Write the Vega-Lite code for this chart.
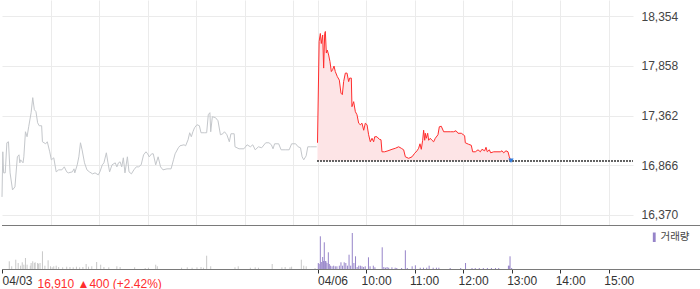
{
"$schema": "https://vega.github.io/schema/vega-lite/v6.json",
"padding": 0,
"spacing": 0,
"config": {"view": {"stroke": null}, "font": "Liberation Sans"},
"datasets": {
"price": [
{"t":0,"p":16550,"s":"a"},{"t":1,"p":17000,"s":"a"},{"t":2,"p":16790,"s":"a"},{"t":4,"p":16790,"s":"a"},{"t":6,"p":17090,"s":"a"},{"t":8,"p":17100,"s":"a"},{"t":10,"p":16790,"s":"a"},{"t":13,"p":16620,"s":"a"},{"t":16,"p":16650,"s":"a"},{"t":19,"p":16950,"s":"a"},{"t":21,"p":16970,"s":"a"},{"t":22,"p":16890,"s":"a"},{"t":23,"p":16920,"s":"a"},{"t":26,"p":16890,"s":"a"},{"t":27,"p":16950,"s":"a"},{"t":29,"p":17200,"s":"a"},{"t":31,"p":17150,"s":"a"},{"t":33,"p":17250,"s":"a"},{"t":36,"p":17390,"s":"a"},{"t":38,"p":17540,"s":"a"},{"t":40,"p":17420,"s":"a"},{"t":42,"p":17400,"s":"a"},{"t":44,"p":17290,"s":"a"},{"t":46,"p":17260,"s":"a"},{"t":49,"p":17260,"s":"a"},{"t":50,"p":17100,"s":"a"},{"t":54,"p":17080,"s":"a"},{"t":56,"p":17100,"s":"a"},{"t":59,"p":17000,"s":"a"},{"t":61,"p":16920,"s":"a"},{"t":64,"p":16940,"s":"a"},{"t":67,"p":16800,"s":"a"},{"t":70,"p":16820,"s":"a"},{"t":74,"p":16820,"s":"a"},{"t":77,"p":16850,"s":"a"},{"t":80,"p":16800,"s":"a"},{"t":82,"p":16790,"s":"a"},{"t":87,"p":16800,"s":"a"},{"t":89,"p":16830,"s":"a"},{"t":90,"p":16790,"s":"a"},{"t":93,"p":16870,"s":"a"},{"t":95,"p":16950,"s":"a"},{"t":97,"p":17090,"s":"a"},{"t":99,"p":17020,"s":"a"},{"t":102,"p":16890,"s":"a"},{"t":105,"p":16820,"s":"a"},{"t":108,"p":16800,"s":"a"},{"t":112,"p":16780,"s":"a"},{"t":115,"p":16790,"s":"a"},{"t":119,"p":16770,"s":"a"},{"t":121,"p":16800,"s":"a"},{"t":124,"p":16870,"s":"a"},{"t":126,"p":16890,"s":"a"},{"t":129,"p":16990,"s":"a"},{"t":131,"p":16890,"s":"a"},{"t":133,"p":16800,"s":"a"},{"t":136,"p":16870,"s":"a"},{"t":140,"p":16890,"s":"a"},{"t":142,"p":16850,"s":"a"},{"t":144,"p":16890,"s":"a"},{"t":146,"p":16900,"s":"a"},{"t":148,"p":16850,"s":"a"},{"t":150,"p":16940,"s":"a"},{"t":152,"p":16790,"s":"a"},{"t":155,"p":16950,"s":"a"},{"t":157,"p":16800,"s":"a"},{"t":160,"p":16780,"s":"a"},{"t":163,"p":16820,"s":"a"},{"t":166,"p":16850,"s":"a"},{"t":169,"p":16850,"s":"a"},{"t":172,"p":16870,"s":"a"},{"t":175,"p":16970,"s":"a"},{"t":178,"p":17000,"s":"a"},{"t":180,"p":16980,"s":"a"},{"t":182,"p":16950,"s":"a"},{"t":185,"p":16980,"s":"a"},{"t":187,"p":16980,"s":"a"},{"t":190,"p":16870,"s":"a"},{"t":193,"p":16950,"s":"a"},{"t":196,"p":16850,"s":"a"},{"t":199,"p":16820,"s":"a"},{"t":204,"p":16830,"s":"a"},{"t":209,"p":16830,"s":"a"},{"t":212,"p":16920,"s":"a"},{"t":214,"p":16980,"s":"a"},{"t":218,"p":17040,"s":"a"},{"t":220,"p":17060,"s":"a"},{"t":225,"p":17070,"s":"a"},{"t":227,"p":17060,"s":"a"},{"t":230,"p":17120,"s":"a"},{"t":232,"p":17190,"s":"a"},{"t":234,"p":17150,"s":"a"},{"t":236,"p":17200,"s":"a"},{"t":238,"p":17240,"s":"a"},{"t":241,"p":17270,"s":"a"},{"t":244,"p":17260,"s":"a"},{"t":246,"p":17190,"s":"a"},{"t":250,"p":17190,"s":"a"},{"t":253,"p":17190,"s":"a"},{"t":255,"p":17370,"s":"a"},{"t":257,"p":17390,"s":"a"},{"t":258,"p":17200,"s":"a"},{"t":260,"p":17350,"s":"a"},{"t":264,"p":17340,"s":"a"},{"t":267,"p":17310,"s":"a"},{"t":270,"p":17170,"s":"a"},{"t":273,"p":17180,"s":"a"},{"t":275,"p":17200,"s":"a"},{"t":278,"p":17170,"s":"a"},{"t":281,"p":17100,"s":"a"},{"t":283,"p":17180,"s":"a"},{"t":287,"p":17180,"s":"a"},{"t":288,"p":17050,"s":"a"},{"t":293,"p":17030,"s":"a"},{"t":299,"p":17030,"s":"a"},{"t":303,"p":17070,"s":"a"},{"t":307,"p":17050,"s":"a"},{"t":310,"p":17070,"s":"a"},{"t":313,"p":17020,"s":"a"},{"t":317,"p":17050,"s":"a"},{"t":321,"p":17040,"s":"a"},{"t":326,"p":17090,"s":"a"},{"t":330,"p":17090,"s":"a"},{"t":333,"p":17070,"s":"a"},{"t":335,"p":17030,"s":"a"},{"t":337,"p":17080,"s":"a"},{"t":342,"p":17080,"s":"a"},{"t":345,"p":17020,"s":"a"},{"t":350,"p":17020,"s":"a"},{"t":355,"p":17020,"s":"a"},{"t":358,"p":17080,"s":"a"},{"t":363,"p":17080,"s":"a"},{"t":366,"p":17050,"s":"a"},{"t":369,"p":17040,"s":"a"},{"t":371,"p":16950,"s":"a"},{"t":373,"p":16920,"s":"a"},{"t":376,"p":16960,"s":"a"},{"t":378,"p":17050,"s":"a"},{"t":381,"p":17050,"s":"a"},{"t":389,"p":17050,"s":"a"},
{"t":390,"p":17090,"s":"b"},{"t":392,"p":18100,"s":"b"},{"t":393.5,"p":18180,"s":"b"},{"t":394.7,"p":18080,"s":"b"},{"t":396.4,"p":18165,"s":"b"},{"t":397.6,"p":17835,"s":"b"},{"t":398.9,"p":18180,"s":"b"},{"t":399.7,"p":18200,"s":"b"},{"t":400.9,"p":17985,"s":"b"},{"t":402.1,"p":18015,"s":"b"},{"t":403.8,"p":17965,"s":"b"},{"t":405.4,"p":17900,"s":"b"},{"t":407.1,"p":17800,"s":"b"},{"t":408.7,"p":17820,"s":"b"},{"t":410.4,"p":17855,"s":"b"},{"t":412,"p":17800,"s":"b"},{"t":414.5,"p":17750,"s":"b"},{"t":417,"p":17715,"s":"b"},{"t":419,"p":17585,"s":"b"},{"t":420.7,"p":17570,"s":"b"},{"t":422.3,"p":17700,"s":"b"},{"t":424.4,"p":17785,"s":"b"},{"t":426.5,"p":17785,"s":"b"},{"t":428.5,"p":17700,"s":"b"},{"t":429.8,"p":17735,"s":"b"},{"t":431.8,"p":17735,"s":"b"},{"t":432.6,"p":17450,"s":"b"},{"t":434.7,"p":17500,"s":"b"},{"t":436.8,"p":17400,"s":"b"},{"t":438.8,"p":17370,"s":"b"},{"t":440.9,"p":17285,"s":"b"},{"t":442.9,"p":17270,"s":"b"},{"t":445,"p":17285,"s":"b"},{"t":447.1,"p":17215,"s":"b"},{"t":449.1,"p":17285,"s":"b"},{"t":451.2,"p":17270,"s":"b"},{"t":453.2,"p":17170,"s":"b"},{"t":455.3,"p":17100,"s":"b"},{"t":457.4,"p":17135,"s":"b"},{"t":459.4,"p":17100,"s":"b"},{"t":460.7,"p":17150,"s":"b"},{"t":463.5,"p":17150,"s":"b"},{"t":466.4,"p":17125,"s":"b"},{"t":468.5,"p":17120,"s":"b"},{"t":469.7,"p":17000,"s":"b"},{"t":473,"p":17000,"s":"b"},{"t":477.1,"p":17010,"s":"b"},{"t":482.1,"p":17025,"s":"b"},{"t":486.2,"p":17035,"s":"b"},{"t":490.3,"p":17050,"s":"b"},{"t":493.6,"p":17035,"s":"b"},{"t":496.5,"p":17020,"s":"b"},{"t":498.6,"p":16950,"s":"b"},{"t":502.7,"p":16935,"s":"b"},{"t":506.8,"p":16950,"s":"b"},{"t":510.1,"p":16985,"s":"b"},{"t":513,"p":17010,"s":"b"},{"t":515,"p":17035,"s":"b"},{"t":516.7,"p":17080,"s":"b"},{"t":518.3,"p":17025,"s":"b"},{"t":520,"p":17115,"s":"b"},{"t":521.2,"p":17215,"s":"b"},{"t":522.5,"p":17115,"s":"b"},{"t":523.3,"p":17185,"s":"b"},{"t":524.5,"p":17135,"s":"b"},{"t":526.2,"p":17185,"s":"b"},{"t":527.4,"p":17115,"s":"b"},{"t":529.4,"p":17135,"s":"b"},{"t":531.5,"p":17115,"s":"b"},{"t":533.6,"p":17100,"s":"b"},{"t":535.6,"p":17135,"s":"b"},{"t":538.9,"p":17170,"s":"b"},{"t":540.6,"p":17250,"s":"b"},{"t":543,"p":17255,"s":"b"},{"t":546,"p":17200,"s":"b"},{"t":550.1,"p":17200,"s":"b"},{"t":554.2,"p":17200,"s":"b"},{"t":558.3,"p":17200,"s":"b"},{"t":561.2,"p":17210,"s":"b"},{"t":563.7,"p":17185,"s":"b"},{"t":567.8,"p":17185,"s":"b"},{"t":571.9,"p":17160,"s":"b"},{"t":572.7,"p":17090,"s":"b"},{"t":576.8,"p":17075,"s":"b"},{"t":580.1,"p":17065,"s":"b"},{"t":581.8,"p":17000,"s":"b"},{"t":585.1,"p":17000,"s":"b"},{"t":588.4,"p":17020,"s":"b"},{"t":591.3,"p":17000,"s":"b"},{"t":593.3,"p":17025,"s":"b"},{"t":596.6,"p":17010,"s":"b"},{"t":598.3,"p":17045,"s":"b"},{"t":599.9,"p":17000,"s":"b"},{"t":602.4,"p":17020,"s":"b"},{"t":604.1,"p":16990,"s":"b"},{"t":607.8,"p":17000,"s":"b"},{"t":611.9,"p":17000,"s":"b"},{"t":616,"p":17000,"s":"b"},{"t":618.1,"p":17010,"s":"b"},{"t":620.1,"p":16990,"s":"b"},{"t":623,"p":17010,"s":"b"},{"t":625.5,"p":17000,"s":"b"},{"t":627.1,"p":16950,"s":"b"},{"t":629.2,"p":16910,"s":"b"}
],
"vol": [
{"t":9,"v":770,"d":"a"},{"t":12,"v":270,"d":"a"},{"t":17,"v":930,"d":"a"},{"t":20,"v":600,"d":"a"},{"t":23,"v":330,"d":"a"},{"t":25,"v":670,"d":"a"},{"t":27,"v":430,"d":"a"},{"t":29,"v":1100,"d":"a"},{"t":31,"v":430,"d":"a"},{"t":35,"v":330,"d":"a"},{"t":36,"v":600,"d":"a"},{"t":38,"v":770,"d":"a"},{"t":40,"v":600,"d":"a"},{"t":41,"v":670,"d":"a"},{"t":44,"v":600,"d":"a"},{"t":45,"v":530,"d":"a"},{"t":47,"v":600,"d":"a"},{"t":50,"v":1770,"d":"a"},{"t":53,"v":330,"d":"a"},{"t":57,"v":870,"d":"a"},{"t":60,"v":270,"d":"a"},{"t":62,"v":170,"d":"a"},{"t":64,"v":270,"d":"a"},{"t":67,"v":330,"d":"a"},{"t":70,"v":200,"d":"a"},{"t":75,"v":170,"d":"a"},{"t":80,"v":230,"d":"a"},{"t":84,"v":200,"d":"a"},{"t":88,"v":170,"d":"a"},{"t":92,"v":230,"d":"a"},{"t":96,"v":170,"d":"a"},{"t":100,"v":200,"d":"a"},{"t":104,"v":500,"d":"a"},{"t":107,"v":230,"d":"a"},{"t":111,"v":270,"d":"a"},{"t":117,"v":700,"d":"a"},{"t":122,"v":430,"d":"a"},{"t":126,"v":200,"d":"a"},{"t":132,"v":170,"d":"a"},{"t":142,"v":270,"d":"a"},{"t":146,"v":200,"d":"a"},{"t":164,"v":170,"d":"a"},{"t":177,"v":100,"d":"a"},{"t":181,"v":130,"d":"a"},{"t":190,"v":430,"d":"a"},{"t":192,"v":270,"d":"a"},{"t":222,"v":130,"d":"a"},{"t":229,"v":170,"d":"a"},{"t":235,"v":130,"d":"a"},{"t":241,"v":170,"d":"a"},{"t":246,"v":200,"d":"a"},{"t":249,"v":130,"d":"a"},{"t":253,"v":1330,"d":"a"},{"t":258,"v":270,"d":"a"},{"t":288,"v":170,"d":"a"},{"t":292,"v":270,"d":"a"},{"t":307,"v":130,"d":"a"},{"t":313,"v":170,"d":"a"},{"t":317,"v":130,"d":"a"},{"t":334,"v":500,"d":"a"},{"t":346,"v":170,"d":"a"},{"t":350,"v":200,"d":"a"},{"t":356,"v":170,"d":"a"},{"t":358,"v":230,"d":"a"},{"t":370,"v":930,"d":"a"},{"t":373,"v":330,"d":"a"},{"t":376,"v":270,"d":"a"},{"t":387,"v":100,"d":"a"},
{"t":391,"v":600,"d":"b"},{"t":392,"v":500,"d":"b"},{"t":393.5,"v":3270,"d":"b"},{"t":394.7,"v":700,"d":"b"},{"t":396.4,"v":1200,"d":"b"},{"t":397.6,"v":800,"d":"b"},{"t":398.4,"v":2670,"d":"b"},{"t":399.7,"v":800,"d":"b"},{"t":400.5,"v":770,"d":"b"},{"t":401.7,"v":600,"d":"b"},{"t":403.4,"v":1670,"d":"b"},{"t":404.6,"v":500,"d":"b"},{"t":405.9,"v":330,"d":"b"},{"t":408,"v":270,"d":"b"},{"t":410,"v":330,"d":"b"},{"t":412,"v":270,"d":"b"},{"t":414,"v":270,"d":"b"},{"t":417,"v":330,"d":"b"},{"t":419,"v":670,"d":"b"},{"t":421,"v":330,"d":"b"},{"t":423,"v":670,"d":"b"},{"t":425,"v":600,"d":"b"},{"t":427,"v":330,"d":"b"},{"t":429,"v":1430,"d":"b"},{"t":431,"v":330,"d":"b"},{"t":433,"v":3600,"d":"b"},{"t":435,"v":600,"d":"b"},{"t":437,"v":1270,"d":"b"},{"t":439,"v":200,"d":"b"},{"t":441,"v":330,"d":"b"},{"t":443,"v":330,"d":"b"},{"t":445,"v":270,"d":"b"},{"t":447,"v":200,"d":"b"},{"t":449,"v":270,"d":"b"},{"t":453,"v":1170,"d":"b"},{"t":455,"v":270,"d":"b"},{"t":459,"v":330,"d":"b"},{"t":461,"v":170,"d":"b"},{"t":470,"v":2170,"d":"b"},{"t":472,"v":200,"d":"b"},{"t":474,"v":130,"d":"b"},{"t":476,"v":200,"d":"b"},{"t":478,"v":130,"d":"b"},{"t":482,"v":170,"d":"b"},{"t":486,"v":130,"d":"b"},{"t":488,"v":100,"d":"b"},{"t":494,"v":100,"d":"b"},{"t":498.6,"v":1870,"d":"b"},{"t":501,"v":100,"d":"b"},{"t":507,"v":270,"d":"b"},{"t":511,"v":370,"d":"b"},{"t":517,"v":130,"d":"b"},{"t":521,"v":130,"d":"b"},{"t":525,"v":130,"d":"b"},{"t":528,"v":330,"d":"b"},{"t":533,"v":130,"d":"b"},{"t":537,"v":130,"d":"b"},{"t":540,"v":130,"d":"b"},{"t":554,"v":100,"d":"b"},{"t":567,"v":100,"d":"b"},{"t":573,"v":600,"d":"b"},{"t":581,"v":100,"d":"b"},{"t":585,"v":100,"d":"b"},{"t":590,"v":100,"d":"b"},{"t":595,"v":100,"d":"b"},{"t":600,"v":100,"d":"b"},{"t":605,"v":100,"d":"b"},{"t":610,"v":100,"d":"b"},{"t":614,"v":100,"d":"b"},{"t":626,"v":330,"d":"b"},{"t":627,"v":330,"d":"b"},{"t":628,"v":1270,"d":"b"},{"t":630,"v":100,"d":"b"}
]
},
"vconcat": [
{
"width": 631, "height": 225,
"data": {"name": "price"},
"layer": [
{"transform": [{"filter": "datum.s == 'b'"}],
 "mark": {"type": "area", "color": "#fde4e6", "opacity": 1},
 "encoding": {
  "x": {"field": "t", "type": "quantitative", "scale": {"domain": [0, 780], "nice": false, "zero": false},
        "axis": {"title": null, "labels": false, "ticks": false, "domain": false, "grid": true, "gridColor": "#ebebeb",
                 "values": [60,120,180,240,300,360,390,450,510,570,630,690,750]}},
  "y": {"field": "p", "type": "quantitative", "scale": {"domain": [16270, 18514], "nice": false, "zero": false},
        "axis": {"title": null, "orient": "right", "values": [16370,16866,17362,17858,18354], "format": ",d",
                 "domain": false, "ticks": false, "labelPadding": 8, "grid": true, "gridColor": "#ebebeb",
                 "labelColor": "#444", "labelFontSize": 12, "labelFont": "Liberation Sans"}},
  "y2": {"datum": 16910}
 }},
{"transform": [{"filter": "datum.s == 'a'"}],
 "mark": {"type": "line", "color": "#c4c7cb", "strokeWidth": 1},
 "encoding": {"x": {"field": "t", "type": "quantitative"}, "y": {"field": "p", "type": "quantitative"}}},
{"transform": [{"filter": "datum.s == 'b'"}],
 "mark": {"type": "line", "color": "#ff2d2d", "strokeWidth": 1},
 "encoding": {"x": {"field": "t", "type": "quantitative"}, "y": {"field": "p", "type": "quantitative"}}},
{"mark": {"type": "rule", "color": "#666666", "strokeDash": [1, 2], "strokeWidth": 1, "yOffset": 0.5},
 "encoding": {"x": {"datum": 390}, "x2": {"datum": 780}, "y": {"datum": 16910}}},
{"mark": {"type": "rule", "color": "#7a7a7a", "strokeWidth": 1, "yOffset": 0.5},
 "encoding": {"x": {"datum": 0}, "x2": {"datum": 865}, "y": {"datum": 16270}}},
{"transform": [{"filter": "datum.s == 'b' && datum.t > 629"}],
 "mark": {"type": "point", "shape": "triangle-down", "filled": true, "color": "#2f7de1", "size": 28, "opacity": 1},
 "encoding": {"x": {"field": "t", "type": "quantitative"}, "y": {"field": "p", "type": "quantitative"}}}
]
},
{
"width": 631, "height": 43,
"data": {"name": "vol"},
"layer": [
{"mark": {"type": "rule", "strokeWidth": 1},
 "encoding": {
  "x": {"field": "t", "type": "quantitative", "scale": {"domain": [0, 780], "nice": false, "zero": false},
        "axis": {"title": "16,910 ▲400 (+2.42%)", "titleColor": "#ff2d2d", "titleFont": "Liberation Sans", "titleFontSize": 12, "titleFontWeight": "normal",
                 "titleAnchor": "start", "titleAlign": "left", "titleBaseline": "alphabetic", "titleX": 35, "titleY": 18,
                 "values": [0,390,450,510,570,630,690,750], "domain": false, "grid": false,
                 "ticks": true, "tickSize": 4, "tickColor": "#333",
                 "labelExpr": "datum.value == 0 ? '04/03' : datum.value == 390 ? '04/06' : (floor((datum.value - 390) / 60) + 9) + ':00'",
                 "labelAlign": "left", "labelOffset": {"condition": {"test": "datum.value > 400", "value": -5}, "value": 0},
                 "labelFlush": false, "labelOverlap": false, "labelPadding": 2, "labelBaseline": "top",
                 "labelColor": "#333", "labelFontSize": 12, "labelFont": "Liberation Sans"}},
  "y": {"field": "v", "type": "quantitative", "scale": {"domain": [0, 4300], "nice": false}, "axis": null},
  "y2": {"datum": 0},
  "color": {"field": "d", "type": "nominal", "scale": {"domain": ["a", "b"], "range": ["#c8c8c8", "#9684c9"]},
            "legend": {"orient": "none", "legendX": 647, "legendY": 232, "values": ["b"], "labelExpr": "'거래량'", "title": null,
                       "symbolType": "M-0.3,-1L0.3,-1L0.3,1L-0.3,1Z", "symbolSize": 90, "symbolFillColor": "#9684c9", "symbolStrokeWidth": 0,
                       "labelFont": "Noto Sans CJK KR", "labelFontSize": 10.5, "labelColor": "#444", "labelOffset": 1}}
 }},
{"mark": {"type": "rule", "color": "#7a7a7a", "strokeWidth": 1, "yOffset": 0.5},
 "encoding": {"x": {"datum": 0}, "x2": {"datum": 865}, "y": {"datum": 0}}}
]
}
]
}
